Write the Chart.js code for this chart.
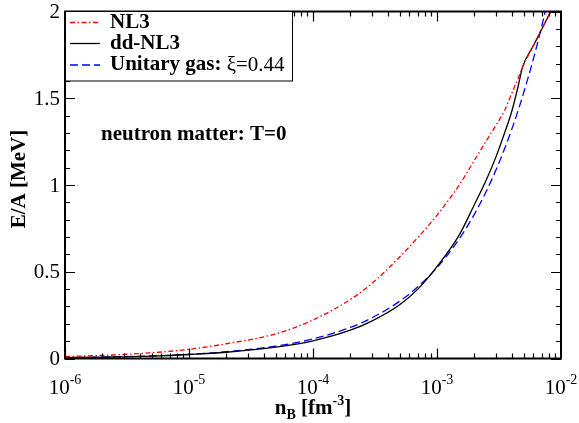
<!DOCTYPE html>
<html>
<head>
<meta charset="utf-8">
<script src="https://cdn.jsdelivr.net/npm/chart.js@4.4.0/dist/chart.umd.min.js"></script>
<style>
  body { margin: 0; background: #fff; }
  canvas { display: block; }
</style>
</head>
<body>
<canvas id="chart1" width="579" height="423"></canvas>
<script>
// density grid (fm^-3) and E/A (MeV)
var nB = [1e-6, 2e-6, 5e-6, 1e-5, 2e-5, 5e-5, 1e-4, 2e-4, 3e-4, 5e-4, 7e-4, 1e-3, 1.5e-3, 2e-3, 2.5e-3, 3e-3, 3.5e-3, 4e-3, 4.5e-3, 4.9e-3, 6e-3, 7e-3, 7.5e-3, 8e-3, 8.3e-3];
var nl3 = [0.011, 0.018, 0.033, 0.053, 0.085, 0.142, 0.222, 0.34, 0.434, 0.585, 0.697, 0.826, 0.997, 1.141, 1.255, 1.346, 1.428, 1.526, 1.613, 1.68, 1.804, 1.899, 1.941, 1.98, 2.003];
var ddnl3 = [0.005, 0.008, 0.014, 0.023, 0.036, 0.065, 0.102, 0.163, 0.217, 0.31, 0.40, 0.53, 0.708, 0.886, 1.03, 1.165, 1.298, 1.422, 1.565, 1.68, 1.804, 1.899, 1.941, 1.98, 2.003];
var unitary = [0.005, 0.008, 0.015, 0.024, 0.039, 0.071, 0.113, 0.179, 0.235, 0.330, 0.413, 0.524, 0.686, 0.831, 0.964, 1.089, 1.207, 1.319, 1.427, 1.511, 1.729, 1.916, 2.006, 2.09, 2.14];

var xMajor = [1e-6, 1e-5, 1e-4, 1e-3, 1e-2];
var xExp = ['-6', '-5', '-4', '-3', '-2'];
var yMajor = [0, 0.5, 1, 1.5, 2];
var yLabels = ['0', '0.5', '1', '1.5', '2'];

var FONT = '"Liberation Serif", "Times New Roman", serif';

function pts(ys) {
    return nB.map(function(x, i) { return {x: x, y: ys[i]}; });
}

var decor = {
    id: 'decor',
    afterDraw: function(chart) {
        var ctx = chart.ctx, a = chart.chartArea;
        var xs = chart.scales.x, ys = chart.scales.y;
        ctx.save();
        ctx.strokeStyle = '#000';
        ctx.fillStyle = '#000';

        // ticks, inward on all four sides
        ctx.lineWidth = 1.2;
        ctx.beginPath();
        for (var d = -6; d < -2; d++) {
            for (var m = 1; m < 10; m++) {
                var px = Math.round(xs.getPixelForValue(m * Math.pow(10, d))) + 0.5;
                var len = m == 1 ? 10 : 5;
                ctx.moveTo(px, a.bottom); ctx.lineTo(px, a.bottom - len);
                ctx.moveTo(px, a.top); ctx.lineTo(px, a.top + len);
            }
        }
        for (var k = 0; k <= 20; k++) {
            var py = Math.round(ys.getPixelForValue(k * 0.1)) + 0.5;
            var l2 = k % 5 == 0 ? 10 : 5;
            ctx.moveTo(a.left, py); ctx.lineTo(a.left + l2, py);
            ctx.moveTo(a.right, py); ctx.lineTo(a.right - l2, py);
        }
        ctx.stroke();

        // frame
        ctx.lineWidth = 2;
        ctx.strokeRect(a.left, a.top, a.right - a.left, a.bottom - a.top);

        // y tick labels
        ctx.font = '21px ' + FONT;
        ctx.textAlign = 'right';
        ctx.textBaseline = 'middle';
        yMajor.forEach(function(v, i) {
            ctx.fillText(yLabels[i], a.left - 5, ys.getPixelForValue(v) + 1);
        });

        // x tick labels 10^n
        ctx.textAlign = 'left';
        ctx.textBaseline = 'alphabetic';
        xMajor.forEach(function(v, i) {
            ctx.font = '21px ' + FONT;
            var w1 = ctx.measureText('10').width;
            ctx.font = '14px ' + FONT;
            var w2 = ctx.measureText(xExp[i]).width;
            var x0 = xs.getPixelForValue(v) - (w1 + w2) / 2;
            ctx.font = '21px ' + FONT;
            ctx.fillText('10', x0, 394);
            ctx.font = '14px ' + FONT;
            ctx.fillText(xExp[i], x0 + w1, 384);
        });

        // x axis title: n_B [fm^-3]
        var parts = [
            ['n', 'bold 21px ', 0], ['B', 'bold 14px ', 5], [' [fm', 'bold 21px ', 0],
            ['-3', 'bold 14px ', -9], [']', 'bold 21px ', 0]
        ];
        var tw = 0;
        parts.forEach(function(p) { ctx.font = p[1] + FONT; tw += ctx.measureText(p[0]).width; });
        var cx = 313 - tw / 2;
        parts.forEach(function(p) {
            ctx.font = p[1] + FONT;
            ctx.fillText(p[0], cx, 414 + p[2]);
            cx += ctx.measureText(p[0]).width;
        });

        // y axis title
        ctx.save();
        ctx.translate(20, 179);
        ctx.rotate(-Math.PI / 2);
        ctx.font = 'bold 21px ' + FONT;
        ctx.textAlign = 'center';
        ctx.textBaseline = 'middle';
        ctx.fillText('E/A [MeV]', 0, 0);
        ctx.restore();

        // annotation
        ctx.font = 'bold 21px ' + FONT;
        ctx.textBaseline = 'middle';
        ctx.fillText('neutron matter: T=0', 101, 135);

        // legend
        ctx.fillStyle = '#fff';
        ctx.fillRect(a.left, a.top, 227, 69.5);
        ctx.lineWidth = 1;
        ctx.strokeStyle = '#000';
        ctx.strokeRect(a.left + 0.5, a.top, 227, 69.5);
        var items = [
            {c: '#ff0000', dash: [5, 2.5, 1.5, 2.5], y: 22.5},
            {c: '#000000', dash: [], y: 43.5},
            {c: '#0000ff', dash: [8, 4], y: 65}
        ];
        items.forEach(function(it) {
            ctx.beginPath();
            ctx.strokeStyle = it.c;
            ctx.lineWidth = 1.3;
            ctx.setLineDash(it.dash);
            ctx.moveTo(70, it.y); ctx.lineTo(100, it.y);
            ctx.stroke();
        });
        ctx.setLineDash([]);
        ctx.fillStyle = '#000';
        ctx.font = 'bold 21px ' + FONT;
        ctx.fillText('NL3', 110, 23);
        ctx.fillText('dd-NL3', 110, 44);
        ctx.fillText('Unitary gas: ', 110, 65);
        var wu = ctx.measureText('Unitary gas: ').width;
        ctx.font = '21px ' + FONT;
        ctx.fillText('\u03be=0.44', 110 + wu, 65);
        ctx.restore();
    }
};

var ct1 = document.getElementById('chart1').getContext('2d');
var chart1 = new Chart(ct1, {
    type: 'line',
    data: {
        datasets: [{
            label: 'NL3',
            data: pts(nl3),
            borderColor: '#ff0000',
            borderWidth: 1.3,
            borderDash: [5, 2.5, 1.5, 2.5]
        }, {
            label: 'dd-NL3',
            data: pts(ddnl3),
            borderColor: '#000000',
            borderWidth: 1.3
        }, {
            label: 'Unitary gas',
            data: pts(unitary),
            borderColor: '#0000ff',
            borderWidth: 1.3,
            borderDash: [8, 4]
        }]
    },
    options: {
        responsive: false,
        animation: false,
        devicePixelRatio: 1,
        layout: { padding: { left: 65, right: 18, top: 11.5, bottom: 64.5 } },
        elements: {
            point: { radius: 0 },
            line: { cubicInterpolationMode: 'monotone', fill: false }
        },
        scales: {
            x: { type: 'logarithmic', min: 1e-6, max: 1e-2, display: false },
            y: { type: 'linear', min: 0, max: 2, display: false }
        },
        plugins: {
            legend: { display: false },
            tooltip: { enabled: false }
        }
    },
    plugins: [decor]
});
</script>
</body>
</html>
